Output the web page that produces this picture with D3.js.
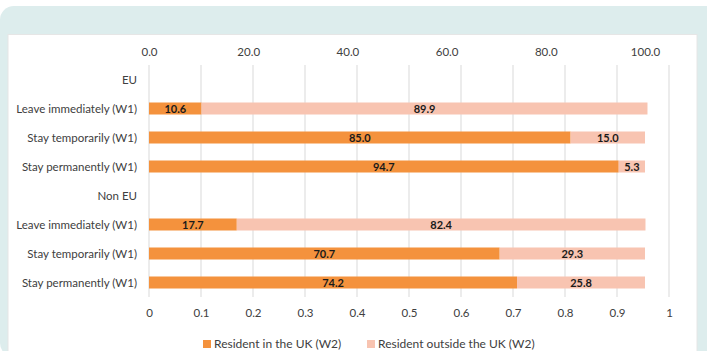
<!DOCTYPE html>
<html>
<head>
<meta charset="utf-8">
<script src="https://cdn.jsdelivr.net/npm/d3@7"></script>
<style>
  body { margin: 0; background: #fff; }
  svg { display: block; font-family: "Lato", "Open Sans", sans-serif; }
</style>
</head>
<body>
<div id="chart"></div>
<script>
// categories from top to bottom, headers carry no bars
var categories = ["EU", "Leave immediately (W1)", "Stay temporarily (W1)", "Stay permanently (W1)",
                  "Non EU", "Leave immediately (W1) ", "Stay temporarily (W1) ", "Stay permanently (W1) "];
var residentUK = [null, 10.6, 85.0, 94.7, null, 17.7, 70.7, 74.2];
var residentOutside = [null, 89.9, 15.0, 5.3, null, 82.4, 29.3, 25.8];
var seriesNames = ["Resident in the UK (W2)", "Resident outside the UK (W2)"];
var topTicks = [0, 20, 40, 60, 80, 100];
var bottomTicks = [0, 0.1, 0.2, 0.3, 0.4, 0.5, 0.6, 0.7, 0.8, 0.9, 1];

var width = 707, height = 351;
var colors = ["#f4923d", "#f8c4b1"];
var textColor = "#404040";
var fontSize = 11.5;

var svg = d3.select("#chart").append("svg")
    .attr("width", width)
    .attr("height", height);

// background card
svg.append("rect")
    .attr("x", 0).attr("y", 6)
    .attr("width", width + 20).attr("height", height)
    .attr("rx", 14)
    .attr("fill", "#ddeded");
svg.append("rect")
    .attr("x", 8).attr("y", 34.5)
    .attr("width", 689).attr("height", height)
    .attr("fill", "#fff")
    .attr("stroke", "#e6e6e6");

var left = 149;
var y = d3.scaleBand().domain(categories).range([65, 297]);
var xTop = d3.scaleLinear().domain([0, 100]).range([left, 645]);
var xBottom = d3.scaleLinear().domain([0, 1]).range([left, 669]);

// gridlines follow the bottom axis
svg.append("g")
    .selectAll("line")
    .data(bottomTicks)
    .join("line")
    .attr("x1", d => xBottom(d)).attr("x2", d => xBottom(d))
    .attr("y1", 65).attr("y2", 297)
    .attr("stroke", "#d9d9d9");

// bars
var rows = categories.map(function(c, i) {
    return { cat: c, a: residentUK[i], b: residentOutside[i] };
}).filter(d => d.a != null);

var bh = 12;
var g = svg.append("g");
rows.forEach(function(d) {
    var y0 = y(d.cat) + y.step() / 2 - bh / 2;
    g.append("rect")
        .attr("x", xTop(0)).attr("y", y0)
        .attr("width", xTop(d.a) - xTop(0)).attr("height", bh)
        .attr("fill", colors[0]);
    g.append("rect")
        .attr("x", xTop(d.a)).attr("y", y0)
        .attr("width", xTop(d.a + d.b) - xTop(d.a)).attr("height", bh)
        .attr("fill", colors[1]);
    [[0, d.a], [d.a, d.a + d.b]].forEach(function(s) {
        g.append("text")
            .attr("x", (xTop(s[0]) + xTop(s[1])) / 2)
            .attr("y", y0 + bh / 2 + 1)
            .attr("dy", "0.36em")
            .attr("text-anchor", "middle")
            .attr("font-size", 11)
            .attr("font-weight", "bold")
            .attr("fill", "#1a1a1a")
            .text((s[1] - s[0]).toFixed(1));
    });
});

// category labels
svg.append("g")
    .selectAll("text")
    .data(categories)
    .join("text")
    .attr("x", 137)
    .attr("y", d => y(d) + y.step() / 2)
    .attr("dy", "0.36em")
    .attr("text-anchor", "end")
    .attr("font-size", fontSize)
    .attr("fill", textColor)
    .text(d => d.trim());

// top axis
var topAxis = svg.append("g")
    .attr("transform", "translate(0,52)")
    .call(d3.axisTop(xTop).tickValues(topTicks).tickFormat(d3.format(".1f")).tickSize(0));
topAxis.select(".domain").remove();
topAxis.selectAll("text").attr("font-size", fontSize).attr("fill", textColor)
    .attr("y", 0).attr("dy", "0.36em")
    .style("font-family", "Lato, sans-serif");

// bottom axis
var bottomAxis = svg.append("g")
    .attr("transform", "translate(0,313)")
    .call(d3.axisBottom(xBottom).tickValues(bottomTicks).tickFormat(d3.format("")).tickSize(0));
bottomAxis.select(".domain").remove();
bottomAxis.selectAll("text").attr("font-size", fontSize).attr("fill", textColor)
    .attr("y", 0).attr("dy", "0.36em")
    .style("font-family", "Lato, sans-serif");

// legend
var legendX = [203, 367];
var legend = svg.append("g")
    .selectAll("g")
    .data(seriesNames)
    .join("g")
    .attr("transform", (d, i) => "translate(" + legendX[i] + ",344)");
legend.append("rect")
    .attr("x", 0).attr("y", -4)
    .attr("width", 8).attr("height", 8)
    .attr("fill", (d, i) => colors[i]);
legend.append("text")
    .attr("x", 11).attr("dy", "0.36em")
    .attr("font-size", 12)
    .attr("fill", textColor)
    .text(d => d);
</script>
</body>
</html>
